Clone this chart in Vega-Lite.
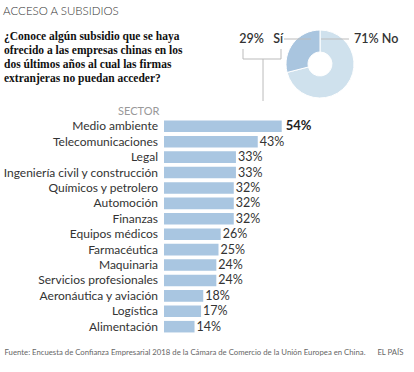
{
  "$schema": "https://vega.github.io/schema/vega-lite/v6.json",
  "padding": {"left": 3, "top": 5, "right": 0, "bottom": 0},
  "background": "white",
  "title": {"text": "ACCESO A SUBSIDIOS", "anchor": "start", "font": "Lato", "fontSize": 11.5, "fontWeight": 300, "color": "#333", "offset": 10},
  "config": {"view": {"stroke": null}, "font": "Lato"},
  "spacing": 4,
  "vconcat": [
    {
      "spacing": 5,
      "hconcat": [
        {
          "width": 222,
          "height": 62,
          "data": {"values": [
            {"line": 1, "text": "¿Conoce algún subsidio que se haya"},
            {"line": 2, "text": "ofrecido a las empresas chinas en los"},
            {"line": 3, "text": "dos últimos años al cual las firmas"},
            {"line": 4, "text": "extranjeras no puedan acceder?"}
          ]},
          "mark": {"type": "text", "align": "left", "baseline": "middle", "font": "Liberation Serif", "fontSize": 11.5, "fontWeight": "bold", "color": "#111"},
          "encoding": {
            "x": {"datum": 0, "type": "quantitative", "scale": {"domain": [0, 1]}, "axis": null},
            "y": {"field": "line", "type": "ordinal", "scale": {"type": "point", "padding": 0.714}, "axis": null},
            "text": {"field": "text"}
          }
        },
        {
          "width": 178,
          "height": 74,
          "layer": [
            {
              "data": {"values": [
                {"respuesta": "No", "pct": 71, "orden": 1},
                {"respuesta": "Sí", "pct": 29, "orden": 2}
              ]},
              "mark": {"type": "arc", "outerRadius": 34, "innerRadius": 12, "stroke": "white", "strokeWidth": 1},
              "encoding": {
                "theta": {"field": "pct", "type": "quantitative", "stack": true},
                "order": {"field": "orden", "type": "quantitative"},
                "color": {"field": "respuesta", "type": "nominal", "scale": {"domain": ["No", "Sí"], "range": ["#cfe1ed", "#a9c5df"]}, "legend": null}
              }
            },
            {
              "data": {"values": [
                {"x1": -1.059, "x2": -0.265, "y1": 0.735, "y2": 0.735},
                {"x1": 0.03, "x2": 0.853, "y1": 0.735, "y2": 0.735},
                {"x1": -2.265, "x2": -1.147, "y1": 0.147, "y2": 0.147},
                {"x1": -2.265, "x2": -2.265, "y1": 0.147, "y2": 0.441},
                {"x1": -1.147, "x2": -1.147, "y1": 0.147, "y2": 0.441},
                {"x1": -1.676, "x2": -1.676, "y1": 0.147, "y2": -1.088}
              ]},
              "mark": {"type": "rule", "color": "#bbbbbb", "strokeWidth": 1},
              "encoding": {
                "x": {"field": "x1", "type": "quantitative", "scale": {"domain": [-2.618, 2.618]}, "axis": null},
                "x2": {"field": "x2"},
                "y": {"field": "y1", "type": "quantitative", "scale": {"domain": [-1.088, 1.088]}, "axis": null},
                "y2": {"field": "y2"}
              }
            },
            {
              "data": {"values": [
                {"lx": -1.647, "ly": 0.735, "label": "29%"},
                {"lx": -1.088, "ly": 0.735, "label": "Sí"}
              ]},
              "mark": {"type": "text", "align": "right", "baseline": "middle", "font": "Lato", "fontSize": 12.5, "fontWeight": 600, "color": "#333"},
              "encoding": {
                "x": {"field": "lx", "type": "quantitative", "scale": {"domain": [-2.618, 2.618]}, "axis": null},
                "y": {"field": "ly", "type": "quantitative", "scale": {"domain": [-1.088, 1.088]}, "axis": null},
                "text": {"field": "label"}
              }
            },
            {
              "data": {"values": [{"lx": 1.0, "ly": 0.735, "label": "71% No"}]},
              "mark": {"type": "text", "align": "left", "baseline": "middle", "font": "Lato", "fontSize": 12.5, "fontWeight": 600, "color": "#333"},
              "encoding": {
                "x": {"field": "lx", "type": "quantitative", "scale": {"domain": [-2.618, 2.618]}, "axis": null},
                "y": {"field": "ly", "type": "quantitative", "scale": {"domain": [-1.088, 1.088]}, "axis": null},
                "text": {"field": "label"}
              }
            }
          ]
        }
      ]
    },
    {
      "width": 378,
      "height": 215,
      "title": {"text": "SECTOR", "anchor": "start", "dx": 115, "offset": 2, "font": "Lato", "fontSize": 11, "fontWeight": "normal", "color": "#999"},
      "data": {"values": [
        {"sector": "Medio ambiente", "pct": 0.54},
        {"sector": "Telecomunicaciones", "pct": 0.43},
        {"sector": "Legal", "pct": 0.33},
        {"sector": "Ingeniería civil y construcción", "pct": 0.33},
        {"sector": "Químicos y petrolero", "pct": 0.32},
        {"sector": "Automoción", "pct": 0.32},
        {"sector": "Finanzas", "pct": 0.32},
        {"sector": "Equipos médicos", "pct": 0.26},
        {"sector": "Farmacéutica", "pct": 0.25},
        {"sector": "Maquinaria", "pct": 0.24},
        {"sector": "Servicios profesionales", "pct": 0.24},
        {"sector": "Aeronáutica y aviación", "pct": 0.18},
        {"sector": "Logística", "pct": 0.17},
        {"sector": "Alimentación", "pct": 0.14}
      ]},
      "encoding": {
        "y": {
          "field": "sector", "type": "nominal", "sort": null,
          "scale": {"paddingInner": 0.25, "paddingOuter": 0.1},
          "axis": null
        },
        "x": {
          "field": "pct", "type": "quantitative", "scale": {"domain": [-0.734, 1]},
          "axis": {
            "title": "Fuente: Encuesta de Confianza Empresarial 2018 de la Cámara de Comercio de la Unión Europea en China.\u00a0\u00a0\u00a0\u00a0\u00a0 EL PAÍS",
            "titleAnchor": "start", "titleAlign": "left", "titleX": 0, "titleY": 18, "titleBaseline": "middle",
            "titleFont": "Lato", "titleFontSize": 7.75, "titleFontWeight": "normal", "titleColor": "#666",
            "labels": false, "ticks": false, "domain": false, "grid": false
          }
        }
      },
      "layer": [
        {"mark": {"type": "bar", "color": "#a9c6e1"}, "encoding": {"x2": {"datum": 0}}},
        {
          "mark": {"type": "text", "align": "right", "baseline": "middle", "dx": -6, "font": "Lato", "fontSize": 12, "color": "#333"},
          "encoding": {"x": {"datum": 0, "type": "quantitative"}, "text": {"field": "sector"}}
        },
        {
          "transform": [{"filter": "datum.pct < 0.54"}],
          "mark": {"type": "text", "align": "left", "baseline": "middle", "dx": 2, "font": "Lato", "fontSize": 12.5, "color": "#333"},
          "encoding": {"text": {"field": "pct", "type": "quantitative", "format": ".0%"}}
        },
        {
          "transform": [{"filter": "datum.pct >= 0.54"}],
          "mark": {"type": "text", "align": "left", "baseline": "middle", "dx": 4, "font": "Lato", "fontSize": 13, "fontWeight": "bold", "color": "#222"},
          "encoding": {"text": {"field": "pct", "type": "quantitative", "format": ".0%"}}
        }
      ]
    }
  ]
}
